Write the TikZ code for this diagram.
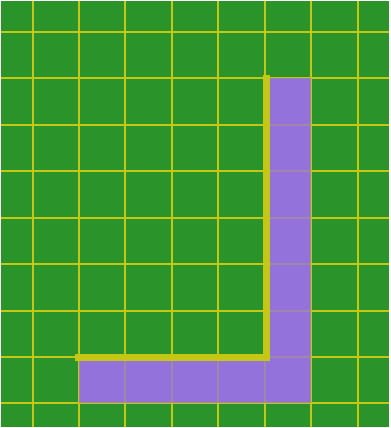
\documentclass[tikz,border=0pt]{standalone}
\definecolor{fieldgreen}{RGB}{42,148,42}
\definecolor{gridyellow}{RGB}{196,200,20}
\definecolor{blockpurple}{RGB}{148,114,220}
\usetikzlibrary{positioning}

\begin{document}
\begin{tikzpicture}[
    gridline/.style={gridyellow,line width=1.2pt},
    blockcell/.style={fill=blockpurple},
    pathline/.style={gridyellow,line width=4.3pt,line cap=rect}
]
    % background field, fixes the margins
    \fill[fieldgreen] (-0.679,-0.507) rectangle (7.679,8.664);
    \foreach \x in {0,...,7}
        \draw[gridline] (\x,-0.507) -- (\x,8.664);
    \foreach \y in {0,...,8}
        \draw[gridline] (-0.679,\y) -- (7.679,\y);
    % purple L block, grid faintly through it
    \fill[blockcell] (5,0) rectangle (6,7);
    \fill[blockcell] (1,0) rectangle (5,1);
    \begin{scope}
        \clip (1,0) -| (6,7) -| (5,1) -| cycle;
        \foreach \x in {1,...,6}
            \draw[gridline,opacity=0.25] (\x,0) -- (\x,7);
        \foreach \y in {0,...,7}
            \draw[gridline,opacity=0.25] (1,\y) -- (6,\y);
    \end{scope}
    % thick path
    \coordinate (start) at (1,1);
    \coordinate (corner) at (5.03,1);
    \coordinate (finish) at (5.03,7);
    \draw[pathline] (start) -- (corner) -- (finish);
\end{tikzpicture}
\end{document}
